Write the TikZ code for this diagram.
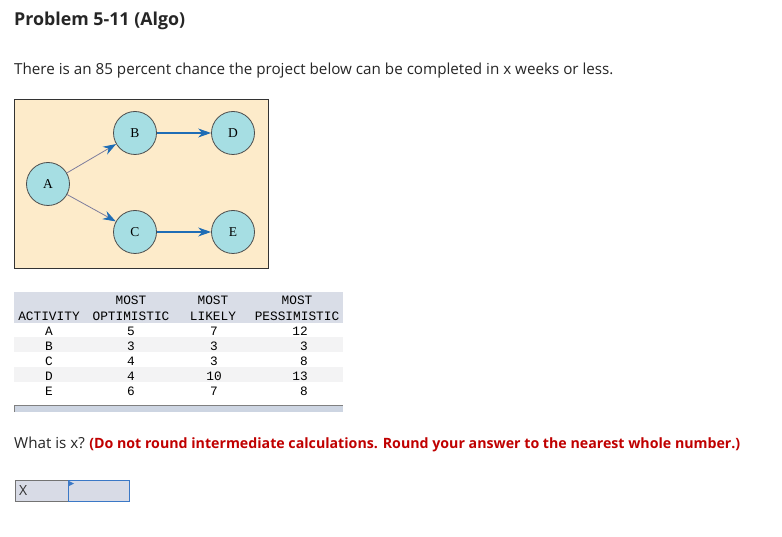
\documentclass[tikz,border=0pt]{standalone}
\usepackage{fontspec}
\setmainfont{Open Sans}
\newfontfamily\tabfont{Liberation Mono}
\newfontfamily\netfont{Liberation Serif}
\usetikzlibrary{arrows.meta}

\definecolor{boxfill}{HTML}{FDEBCA}
\definecolor{nodefill}{HTML}{A6DEE3}
\definecolor{arrowblue}{HTML}{1F6DB5}
\definecolor{leadgray}{HTML}{7C7C9C}
\definecolor{headfill}{HTML}{D9DDE7}
\definecolor{rowfill}{HTML}{F3F3F4}
\definecolor{barfill}{HTML}{CDD5E2}
\definecolor{hintred}{HTML}{C00000}
\definecolor{cellfill}{HTML}{D8DBE6}
\definecolor{cellblue}{HTML}{3B78C6}

\tikzset{
  activity/.style={circle, draw=black!70, line width=0.8pt, fill=nodefill,
    minimum size=43pt, inner sep=0pt, font=\netfont\fontsize{13.5}{13.5}\selectfont},
  flow/.style={draw=arrowblue, line width=1.1pt,
    -{Stealth[length=13pt,width=9pt,color=arrowblue]}},
  lead/.style={flow, draw=leadgray, line width=0.8pt},
  cell/.style={inner sep=0pt, font=\tabfont\fontsize{12.8}{12.8}\selectfont},
  plain/.style={anchor=base west, inner sep=0pt}
}

\begin{document}
\begin{tikzpicture}[x=1pt,y=-1pt]
\useasboundingbox[fill=white] (0,0) rectangle (782,537);

% heading
\node[plain, font=\bfseries\fontsize{17.8}{17.8}\selectfont, text=black!85] (title) at (14,26) {Problem 5-11 (Algo)};
\node[plain, font=\fontsize{15.2}{15.2}\selectfont, text=black!85] (intro) at (14,75)
  {There is an 85 percent chance the project below can be completed in x weeks or less.};

% network
\draw[black!80, line width=0.8pt, fill=boxfill] (14,99) rectangle (268,268);
\node[activity] (A) at (48,184) {A};
\node[activity] (B) at (135,133) {B};
\node[activity] (D) at (233,133) {D};
\node[activity] (C) at (135,232) {C};
\node[activity] (E) at (233,232) {E};
\draw[lead] (A) -- (B);
\draw[lead] (A) -- (C);
\draw[flow] (B) -- (D);
\draw[flow] (C) -- (E);

% table
\fill[headfill] (14,292) rectangle (343,323);
\fill[rowfill] (14,337) rectangle (343,352);
\fill[rowfill] (14,367) rectangle (343,382);
\node[cell] (h2a) at (131,300) {MOST};
\node[cell] (h3a) at (213,300) {MOST};
\node[cell] (h4a) at (297,300) {MOST};
\node[cell] (h1b) at (49,316) {ACTIVITY};
\node[cell] (h2b) at (131,316) {OPTIMISTIC};
\node[cell] (h3b) at (213,316) {LIKELY};
\node[cell] (h4b) at (297,316) {PESSIMISTIC};
\foreach \name/\opt/\lik/\pes [count=\i] in {A/5/7/12, B/3/3/3, C/4/3/8, D/4/10/13, E/6/7/8}{
  \node[cell] (act\i) at (49,316+15*\i) {\name};
  \node[cell] (opt\i) at (131,316+15*\i) {\opt};
  \node[cell] (lik\i) at (214,316+15*\i) {\lik};
  \node[cell, anchor=east] (pes\i) at (308,316+15*\i) {\pes};
}
\fill[barfill] (14,405) rectangle (343,412);
\draw[black!50, line width=0.8pt] (14,412) -- (14,405) -- (343,405);

% question
\node[plain, font=\fontsize{15.2}{15.2}\selectfont, text=black!85] (ask) at (14,448) {What is x?};
\node[plain, anchor=base west, font=\bfseries\fontsize{14.2}{14.2}\selectfont, text=hintred] (hint) at ([xshift=4pt]ask.base east)
  {(Do not round intermediate calculations. Round your answer to the nearest whole number.)};

% answer cell
\draw[black!55, line width=0.8pt, fill=cellfill] (15,480) rectangle (68,501);
\node[anchor=west, inner sep=0pt, font=\fontsize{14}{14}\selectfont, text=black!80] (xlab) at (19,491) {X};
\draw[cellblue, line width=1pt, fill=cellfill] (68,480) rectangle (129,501);
\fill[cellblue] (69,481) -- (74,483.5) -- (69,486) -- cycle;
\end{tikzpicture}
\end{document}
